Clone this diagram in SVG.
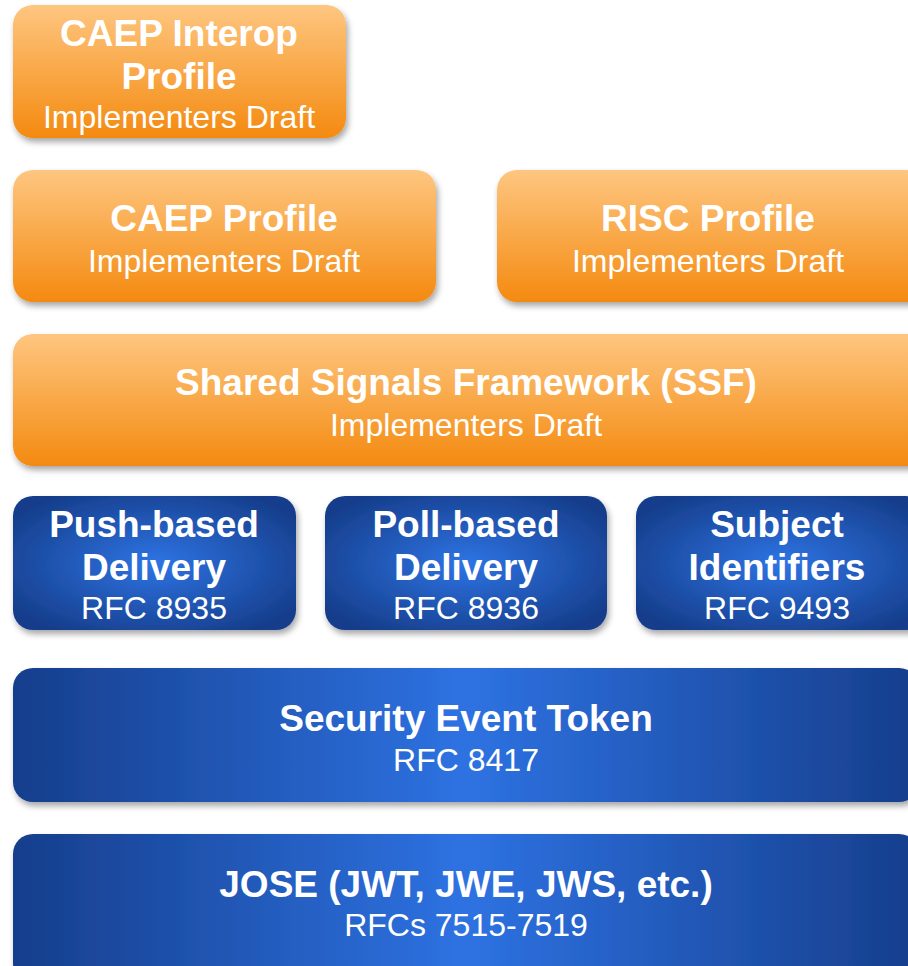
<svg xmlns="http://www.w3.org/2000/svg" width="908" height="966" viewBox="0 0 908 966">
<defs>
  <linearGradient id="og" x1="0" y1="0" x2="0" y2="1">
    <stop offset="0" stop-color="#FEC680"/>
    <stop offset="1" stop-color="#F48A10"/>
  </linearGradient>
  <radialGradient id="bg" cx="0.5" cy="0.5" r="0.6">
    <stop offset="0" stop-color="#2E74E4"/>
    <stop offset="1" stop-color="#163E8C"/>
  </radialGradient>
  <linearGradient id="bgw" x1="0" y1="0" x2="1" y2="0">
    <stop offset="0" stop-color="#163E8C"/>
    <stop offset="0.5" stop-color="#2E72E2"/>
    <stop offset="1" stop-color="#163E8C"/>
  </linearGradient>
  <filter id="sh" x="-10%" y="-10%" width="120%" height="130%">
    <feDropShadow dx="2" dy="4" stdDeviation="3" flood-color="#000" flood-opacity="0.35"/>
  </filter>
  <style>
    text { font-family: "Liberation Sans", Arial, sans-serif; fill: #fff; text-anchor: middle; }
    .t { font-weight: bold; font-size: 37px; }
    .s { font-size: 32px; }
    .o { fill: url(#og); filter: url(#sh); }
    .b { fill: url(#bg); filter: url(#sh); }
    .w { fill: url(#bgw); filter: url(#sh); }
  </style>
</defs>
<g id="caep-interop">
  <rect class="o" x="13" y="5" width="333" height="133" rx="20"/>
  <text class="t" x="179" y="46">CAEP Interop</text>
  <text class="t" x="179" y="89">Profile</text>
  <text class="s" x="179" y="128">Implementers Draft</text>
</g>
<g id="caep-profile">
  <rect class="o" x="13" y="170" width="423" height="132" rx="20"/>
  <text class="t" x="224" y="231">CAEP Profile</text>
  <text class="s" x="224" y="272">Implementers Draft</text>
</g>
<g id="risc-profile">
  <rect class="o" x="497" y="170" width="430" height="132" rx="20"/>
  <text class="t" x="708" y="231">RISC Profile</text>
  <text class="s" x="708" y="272">Implementers Draft</text>
</g>
<g id="ssf">
  <rect class="o" x="13" y="334" width="920" height="132" rx="20"/>
  <text class="t" x="466" y="395">Shared Signals Framework (SSF)</text>
  <text class="s" x="466" y="436">Implementers Draft</text>
</g>
<g id="push">
  <rect class="b" x="13" y="496" width="283" height="134" rx="20"/>
  <text class="t" x="154" y="537">Push-based</text>
  <text class="t" x="154" y="580">Delivery</text>
  <text class="s" x="154" y="619">RFC 8935</text>
</g>
<g id="poll">
  <rect class="b" x="325" y="496" width="282" height="134" rx="20"/>
  <text class="t" x="466" y="537">Poll-based</text>
  <text class="t" x="466" y="580">Delivery</text>
  <text class="s" x="466" y="619">RFC 8936</text>
</g>
<g id="subject">
  <rect class="b" x="636" y="496" width="290" height="134" rx="20"/>
  <text class="t" x="777" y="537">Subject</text>
  <text class="t" x="777" y="580">Identifiers</text>
  <text class="s" x="777" y="619">RFC 9493</text>
</g>
<g id="set">
  <rect class="w" x="13" y="668" width="906" height="134" rx="20"/>
  <text class="t" x="466" y="731">Security Event Token</text>
  <text class="s" x="466" y="771">RFC 8417</text>
</g>
<g id="jose">
  <rect class="w" x="13" y="834" width="906" height="150" rx="20"/>
  <text class="t" x="466" y="897">JOSE (JWT, JWE, JWS, etc.)</text>
  <text class="s" x="466" y="936">RFCs 7515-7519</text>
</g>
<g id="connectors"/>
</svg>
